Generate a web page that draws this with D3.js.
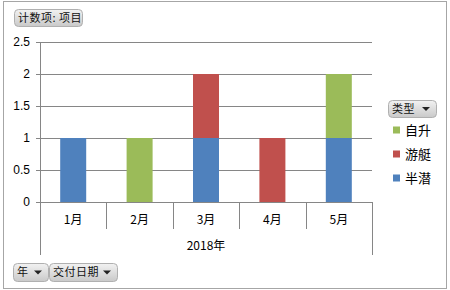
<!DOCTYPE html>
<html><head><meta charset="utf-8">
<script src="https://cdn.jsdelivr.net/npm/d3@7/dist/d3.min.js"></script>
<style>
html,body{margin:0;padding:0;background:#fff;}
svg{display:block;font-family:"Liberation Sans","DejaVu Sans",sans-serif;}
.cjk{font-family:"Noto Sans CJK SC","Liberation Sans",sans-serif;}
</style></head><body>
<svg id="c" width="450" height="290"></svg>
<script>
const categories = ["1月","2月","3月","4月","5月"];
const seriesNames = ["半潜","游艇","自升"];
const banqian = [1,0,1,0,1];
const youting = [0,0,1,1,0];
const zisheng = [0,1,0,0,1];
const yTicks = [0,0.5,1,1.5,2,2.5];
const yTickLabels = ["0","0.5","1","1.5","2","2.5"];
const yearLabel = "2018年";
const colors = {"半潜":"#4F81BD","游艇":"#C0504D","自升":"#9BBB59"};

const svg = d3.select("#c");
const defs = svg.append("defs");
const g1 = defs.append("linearGradient").attr("id","btn").attr("x1",0).attr("y1",0).attr("x2",0).attr("y2",1);
g1.append("stop").attr("offset","0%").attr("stop-color","#f2f2f2");
g1.append("stop").attr("offset","100%").attr("stop-color","#c9c9c9");

// outer border
svg.append("rect").attr("x",3.5).attr("y",1.5).attr("width",443).attr("height",287)
  .attr("fill","#fff").attr("stroke","#a6a6a6").attr("stroke-width",1);

const L=40, R=372, T=42, B=202;
const x = d3.scaleBand().domain(categories).range([L,R]).paddingInner(0).paddingOuter(0);
const y = d3.scaleLinear().domain([0,2.5]).range([B,T]);

// gridlines (with small ticks left of the axis)
svg.append("g").selectAll("line").data(yTicks).join("line")
  .attr("x1",L-4).attr("x2",R).attr("y1",d=>Math.round(y(d))+0.5).attr("y2",d=>Math.round(y(d))+0.5)
  .attr("stroke","#868686").attr("stroke-width",1);

// y axis labels
const yAxis = d3.axisLeft(y).tickValues(yTicks).tickFormat((d,i)=>yTickLabels[i]).tickSize(0).tickPadding(10);
const ya = svg.append("g").attr("transform",`translate(${L},0)`).call(yAxis);
ya.select(".domain").remove();
ya.selectAll("text").attr("font-size",12).attr("fill","#000").attr("font-family","Liberation Sans, sans-serif");

// stacked bars
const rows = categories.map((c,i)=>({cat:c,"半潜":banqian[i],"游艇":youting[i],"自升":zisheng[i]}));
const stack = d3.stack().keys(seriesNames)(rows);
const bw = 26;
svg.append("g").selectAll("g").data(stack).join("g").attr("fill",d=>colors[d.key])
  .selectAll("rect").data(d=>d.filter(p=>p[1]-p[0]>0)).join("rect")
  .attr("x",d=>x(d.data.cat)+x.bandwidth()/2-bw/2)
  .attr("width",bw)
  .attr("y",d=>y(d[1]))
  .attr("height",d=>y(d[0])-y(d[1]));

// axis lines
svg.append("line").attr("x1",L+0.5).attr("x2",L+0.5).attr("y1",T).attr("y2",255).attr("stroke","#868686");
svg.append("line").attr("x1",R+0.5).attr("x2",R+0.5).attr("y1",B).attr("y2",255).attr("stroke","#868686");
svg.append("line").attr("x1",L).attr("x2",R+1).attr("y1",B+0.5).attr("y2",B+0.5).attr("stroke","#868686");
// category separators
const seps = categories.slice(1).map(c=>x(c));
svg.append("g").selectAll("line").data(seps).join("line")
  .attr("x1",d=>Math.round(d)+0.5).attr("x2",d=>Math.round(d)+0.5).attr("y1",B).attr("y2",229).attr("stroke","#868686");

// x labels
const xAxis = d3.axisBottom(x).tickSize(0).tickPadding(0);
const xa = svg.append("g").attr("transform",`translate(0,${B})`).call(xAxis);
xa.select(".domain").remove();
xa.selectAll("text").attr("y",18).attr("dy","0.35em").attr("font-size",12).attr("fill","#000")
  .attr("font-family","Noto Sans CJK SC, sans-serif");
svg.append("text").attr("x",(L+R)/2).attr("y",246).attr("dy","0.35em").attr("text-anchor","middle")
  .attr("font-size",12).attr("class","cjk").text(yearLabel);

// buttons
function button(x0,y0,w,h,label,arrow){
  const g = svg.append("g");
  g.append("rect").attr("x",x0+0.5).attr("y",y0+0.5).attr("width",w).attr("height",h).attr("rx",4)
   .attr("fill","url(#btn)").attr("stroke","#b0b0b0");
  g.append("text").attr("x",x0+4).attr("y",y0+h/2+0.5).attr("dy","0.35em").attr("font-size",11)
   .attr("letter-spacing",0.5).attr("class","cjk").attr("fill","#111").text(label);
  if(arrow){
    const ax = x0+w-10, ay=y0+h/2;
    g.append("path").attr("d",`M${ax-4},${ay-1.5}L${ax+4},${ay-1.5}L${ax},${ay+2.5}Z`).attr("fill","#222");
  }
}
button(14,9,68,17,"计数项: 项目",false);
button(388,100,48,17,"类型",true);
button(13,263,35,18,"年",true);
button(49,263,68,18,"交付日期",true);

// legend
const legendItems = ["自升","游艇","半潜"];
const lg = svg.append("g").selectAll("g").data(legendItems).join("g")
  .attr("transform",(d,i)=>`translate(393,${130+i*24})`);
lg.append("rect").attr("x",0).attr("y",-3.5).attr("width",7).attr("height",7).attr("fill",d=>colors[d]);
lg.append("text").attr("x",12).attr("y",0).attr("dy","0.35em").attr("font-size",13).attr("class","cjk").text(d=>d);
</script>
</body></html>
